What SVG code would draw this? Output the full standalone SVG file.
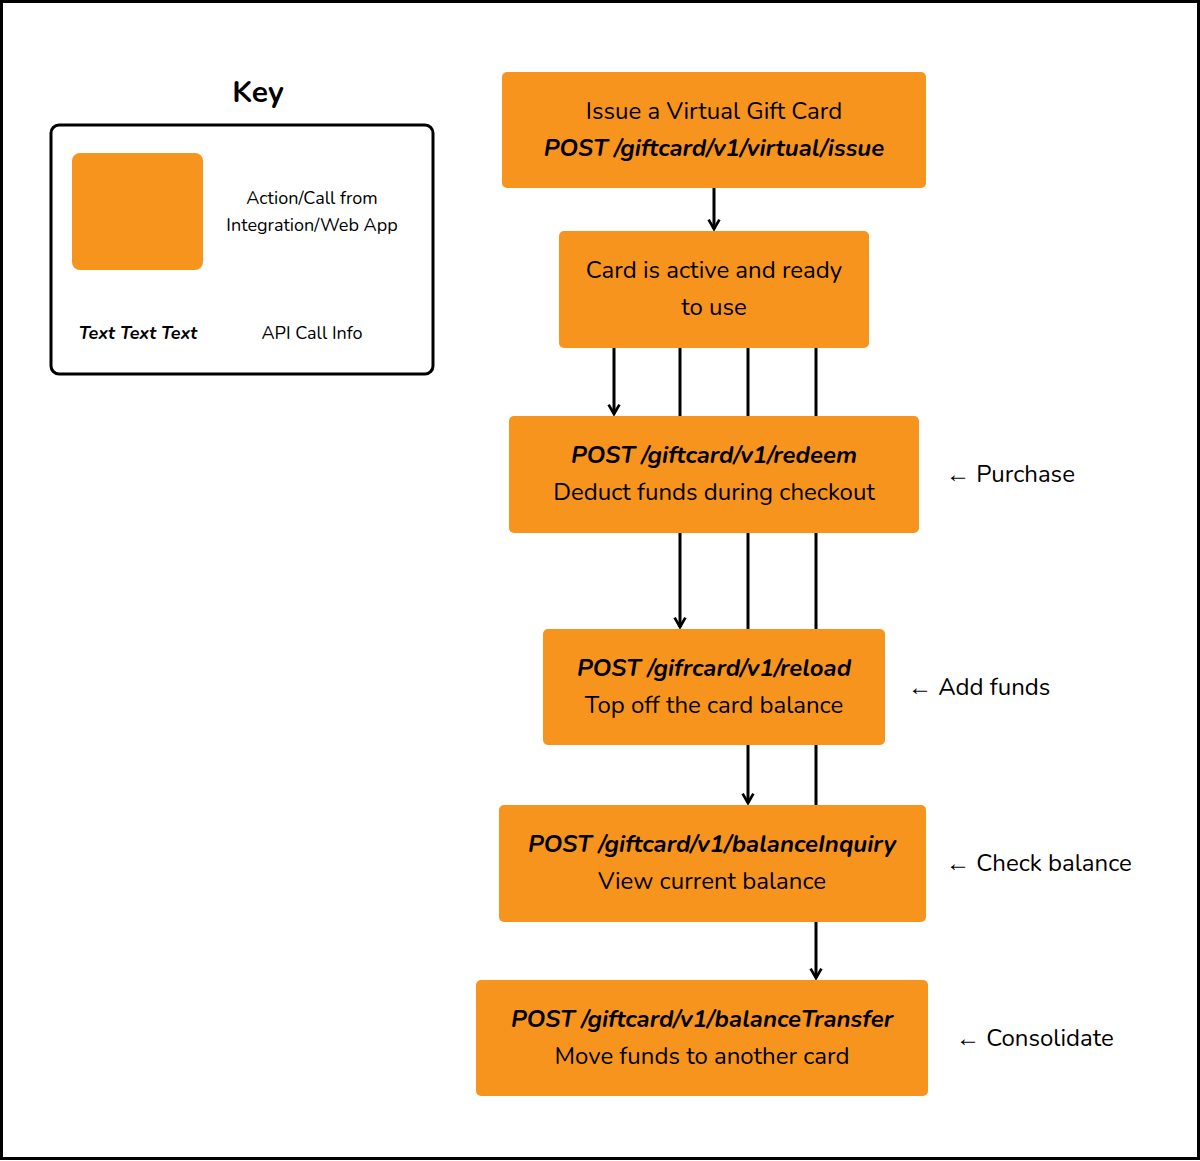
<svg xmlns="http://www.w3.org/2000/svg" width="1200" height="1161" viewBox="0 0 1200 1161">
<style>
text{font-family:"Nunito","Open Sans","Noto Sans",sans-serif;fill:#000}
.b{fill:#F7941D}
.t{font-size:24px;text-anchor:middle}
.bi{font-weight:bold;font-style:italic}
.s{font-size:24px}
.k{font-size:18px;text-anchor:middle}
.c{stroke:#000;stroke-width:3;fill:none}
</style>
<defs><marker id="a" viewBox="0 0 10 10" refX="8" refY="5" markerWidth="4.5" markerHeight="4.5" orient="auto"><path d="M1,1 L8,5 L1,9" fill="none" stroke="#000" stroke-width="2"/></marker></defs>
<rect x="1.5" y="1.5" width="1197" height="1157" fill="#fff" stroke="#000" stroke-width="3"/>
<g id="key">
<text x="258" y="102" font-size="30" font-weight="bold" text-anchor="middle">Key</text>
<rect x="51" y="125" width="382" height="249" rx="8" fill="#fff" stroke="#000" stroke-width="3"/>
<rect class="b" x="72" y="153" width="131" height="117" rx="8"/>
<text class="k" x="312" y="204">Action/Call from</text>
<text class="k" x="312" y="231">Integration/Web App</text>
<text class="k bi" x="138" y="339">Text Text Text</text>
<text class="k" x="312" y="339">API Call Info</text>
</g>
<g id="connectors">
<line class="c" x1="714" y1="188" x2="714" y2="229" marker-end="url(#a)"/>
<line class="c" x1="614" y1="348" x2="614" y2="414" marker-end="url(#a)"/>
<line class="c" x1="680" y1="348" x2="680" y2="627" marker-end="url(#a)"/>
<line class="c" x1="748" y1="348" x2="748" y2="803" marker-end="url(#a)"/>
<line class="c" x1="816" y1="348" x2="816" y2="978" marker-end="url(#a)"/>
</g>
<g id="n1"><rect class="b" x="502" y="72" width="424" height="116" rx="5"/>
<text class="t" x="714" y="119">Issue a Virtual Gift Card</text><text class="t bi" x="714" y="156">POST /giftcard/v1/virtual/issue</text></g>
<g id="n2"><rect class="b" x="559" y="231" width="310" height="117" rx="5"/>
<text class="t" x="714" y="278">Card is active and ready</text><text class="t" x="714" y="315">to use</text></g>
<g id="n3"><rect class="b" x="509" y="416" width="410" height="117" rx="5"/>
<text class="t bi" x="714" y="463">POST /giftcard/v1/redeem</text><text class="t" x="714" y="500">Deduct funds during checkout</text></g>
<g id="n4"><rect class="b" x="543" y="629" width="342" height="116" rx="5"/>
<text class="t bi" x="714" y="676">POST /gifrcard/v1/reload</text><text class="t" x="714" y="713">Top off the card balance</text></g>
<g id="n5"><rect class="b" x="499" y="805" width="427" height="117" rx="5"/>
<text class="t bi" x="712" y="852">POST /giftcard/v1/balanceInquiry</text><text class="t" x="712" y="889">View current balance</text></g>
<g id="n6"><rect class="b" x="476" y="980" width="452" height="116" rx="5"/>
<text class="t bi" x="702" y="1027">POST /giftcard/v1/balanceTransfer</text><text class="t" x="702" y="1064">Move funds to another card</text></g>
<g id="labels">
<text class="s" x="946" y="482">← Purchase</text>
<text class="s" x="908" y="695">← Add funds</text>
<text class="s" x="946" y="871">← Check balance</text>
<text class="s" x="956" y="1046">← Consolidate</text>
</g>
</svg>
